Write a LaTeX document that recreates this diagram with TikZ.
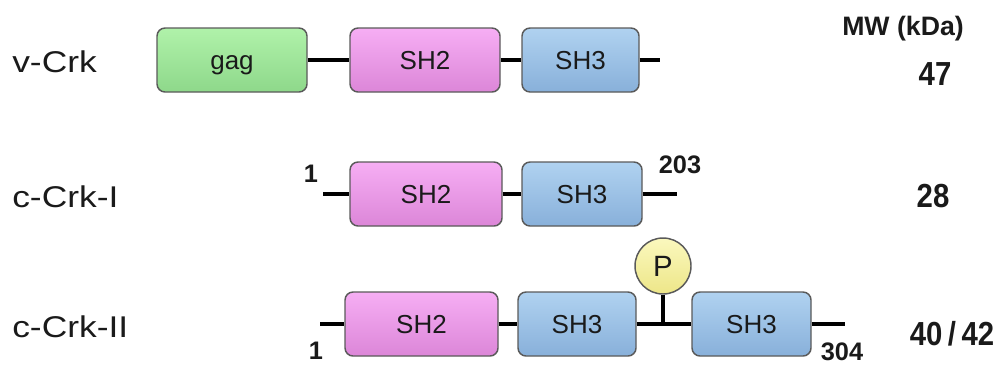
\documentclass[tikz,border=0pt]{standalone}
\usepackage{fontspec}
\setmainfont{Liberation Sans}
\newfontfamily\lblfont[FakeStretch=1.18]{Liberation Sans}
\newfontfamily\numfont[FakeStretch=0.88]{Liberation Sans Bold}
\newfontfamily\bnumfont{Liberation Sans Bold}
\definecolor{edgegray}{HTML}{5A5A5A}
\definecolor{gagtop}{HTML}{B0F2AA}
\definecolor{gagbot}{HTML}{8ED88A}
\definecolor{shtwotop}{HTML}{F6AEF4}
\definecolor{shtwobot}{HTML}{DC86D8}
\definecolor{shthreetop}{HTML}{B0D2F0}
\definecolor{shthreebot}{HTML}{88B0DA}
\definecolor{ptop}{HTML}{FBF8BE}
\definecolor{pbot}{HTML}{EDE688}
\definecolor{inktext}{HTML}{1A1A1A}
\begin{document}
\begin{tikzpicture}[x=0.75pt,y=-0.75pt,
  domain/.style={rectangle, rounded corners=6pt, draw=edgegray, line width=1.1pt,
    minimum height=48pt, minimum width=#1*0.75pt, inner sep=0pt,
    text height=14pt, text depth=0pt,
    font=\fontsize{19.5pt}{22pt}\selectfont, text=inktext},
  gagbox/.style={domain=#1, top color=gagtop, bottom color=gagbot},
  shtwobox/.style={domain=#1, top color=shtwotop, bottom color=shtwobot},
  shthreebox/.style={domain=#1, top color=shthreetop, bottom color=shthreebot},
  pcircle/.style={circle, draw=edgegray, line width=1.1pt, minimum size=42pt, inner sep=0pt,
    top color=ptop, bottom color=pbot, font=\fontsize{22pt}{24pt}\selectfont, text=inktext},
  backbone/.style={draw=black, line width=2.4pt},
  rowlabel/.style={anchor=base west, inner sep=0pt, text=inktext,
    font=\lblfont\fontsize{22.5pt}{26pt}\selectfont},
  mwnum/.style={anchor=base, inner sep=0pt, text=inktext,
    font=\numfont\fontsize{25pt}{30pt}\selectfont},
  resnum/.style={anchor=base, inner sep=0pt, text=inktext,
    font=\bnumfont\fontsize{19pt}{22pt}\selectfont},
  mwhead/.style={anchor=base, inner sep=0pt, text=inktext,
    font=\bnumfont\fontsize{20pt}{22pt}\selectfont}]
\useasboundingbox (0,0) rectangle (1002,365);

% row labels
\node[rowlabel] (lv) at (12,72) {v-Crk};
\node[rowlabel] (lc1) at (12,207) {c-Crk-I};
\node[rowlabel] (lc2) at (12,337) {c-Crk-II};

% MW column
\node[mwhead] (mw) at (903,35) {MW (kDa)};
\node[mwnum] (m1) at (935,85) {47};
\node[mwnum] (m2) at (933,207) {28};
\node[mwnum] (m3) at (952,345) {40\,/\,42};

% row 1: v-Crk
\node[gagbox=150] (gag) at (232,60) {gag};
\node[shtwobox=150] (a1) at (425,60) {SH2};
\node[shthreebox=117] (b1) at (580.5,60) {SH3};
\coordinate (e1) at (660,60);
\draw[backbone] (gag) -- (a1);
\draw[backbone] (a1) -- (b1);
\draw[backbone] (b1) -- (e1);

% row 2: c-Crk-I
\coordinate (s2) at (323,194);
\node[shtwobox=152] (a2) at (426,194) {SH2};
\node[shthreebox=120] (b2) at (582,194) {SH3};
\coordinate (e2) at (677,194);
\draw[backbone] (s2) -- (a2);
\draw[backbone] (a2) -- (b2);
\draw[backbone] (b2) -- (e2);
\node[resnum] (n21) at (311,182) {1};
\node[resnum] (n22) at (680,173) {203};

% row 3: c-Crk-II
\coordinate (s3) at (320,324);
\node[shtwobox=153] (a3) at (421.5,324) {SH2};
\node[shthreebox=118] (b3) at (577,324) {SH3};
\coordinate (j3) at (663,324);
\node[shthreebox=119] (c3) at (751.5,324) {SH3};
\coordinate (e3) at (845,324);
\node[pcircle] (p) at (663,266) {P};
\draw[backbone] (s3) -- (a3);
\draw[backbone] (a3) -- (b3);
\draw[backbone] (b3) -- (c3);
\draw[backbone] (c3) -- (e3);
\draw[backbone] (p) -- (j3);
\node[resnum] (n31) at (316,359) {1};
\node[resnum] (n32) at (842,360) {304};
\end{tikzpicture}
\end{document}
